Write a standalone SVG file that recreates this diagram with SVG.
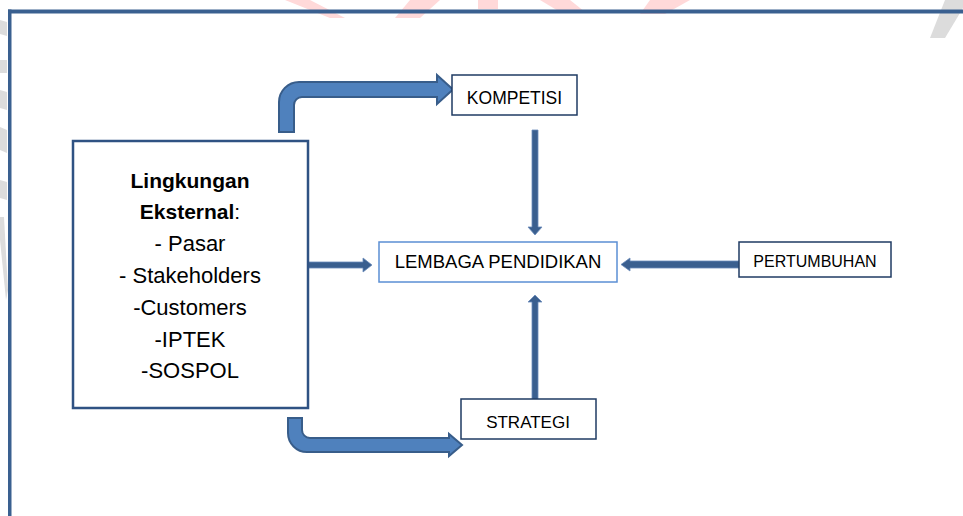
<svg xmlns="http://www.w3.org/2000/svg" width="963" height="516" viewBox="0 0 963 516">
<style>
  .box { fill: #ffffff; stroke: #1f3b63; stroke-width: 1.5; }
  .boxl { fill: #ffffff; stroke: #5b8fd4; stroke-width: 1.5; }
  .main { fill: #ffffff; stroke: #2f5283; stroke-width: 2.5; }
  .t { font-family: "Liberation Sans", Arial, sans-serif; fill: #000000; text-anchor: middle; }
  .bent { fill: #4f81bd; stroke: #385d8a; stroke-width: 2; stroke-linejoin: miter; }
  .str { fill: #3a5f8f; stroke: #6b8cba; stroke-width: 0.8; }
  .wm-g { fill: #dcdcdc; }
  .wm-p { fill: #ffd9d9; }
</style>
<rect x="0" y="0" width="963" height="516" fill="#ffffff"/>
<g id="watermark">
  <polygon class="wm-p" points="285,0 310,0 345,18 330,18"/>
  <polygon class="wm-p" points="410,0 440,0 420,18 395,18"/>
  <rect class="wm-p" x="478" y="0" width="20" height="9"/>
  <polygon class="wm-p" points="540,0 570,0 585,12 560,12"/>
  <polygon class="wm-p" points="650,0 690,0 665,14 640,14"/>
  <polygon class="wm-g" points="930,38 945,0 963,0 963,8 945,38"/>
  <polygon class="wm-g" points="0,20 7,22 7,36 0,34"/>
  <polygon class="wm-g" points="0,60 7,60 7,73 0,73"/>
  <polygon class="wm-g" points="0,90 7,92 7,110 0,108"/>
  <polygon class="wm-g" points="0,127 7,130 7,153 0,150"/>
  <polygon class="wm-g" points="0,180 7,182 7,200 0,198"/>
  <polygon class="wm-g" points="0,217 4,217 8,290 6,300 0,240"/>
</g>
<g id="frame">
  <rect x="8" y="9.5" width="955" height="4" fill="#3a6090"/>
  <rect x="8" y="9.5" width="3.5" height="506.5" fill="#3a6090"/>
</g>
<g id="connectors">
  <path class="bent" d="M279,132 L279,102 A20,20 0 0 1 299,82 L437,82 L437,75 L453,89.5 L437,104 L437,97 L302,97 A8,8 0 0 0 294,105 L294,132 Z"/>
  <path class="bent" d="M288,418 L288,433 A19,19 0 0 0 307,452 L449,452 L449,456 L462,445 L449,434 L449,438 L310,438 A8,8 0 0 1 302,430 L302,418 Z"/>
  <path class="str" d="M532,130 L538,130 L538,227 L542,227 L535,235 L528,227 L532,227 Z"/>
  <path class="str" d="M532,400 L538,400 L538,302 L542,302 L535,295 L528,302 L532,302 Z"/>
  <path class="str" d="M308,262 L363,262 L363,258 L372,265 L363,272 L363,268 L308,268 Z"/>
  <path class="str" d="M739,261 L630,261 L630,258 L621,264.5 L630,271 L630,268 L739,268 Z"/>
</g>
<g id="lingkungan">
  <rect class="main" x="73" y="141" width="235" height="267"/>
  <text class="t" x="190" y="188" font-size="21" font-weight="bold">Lingkungan</text>
  <text class="t" x="190" y="219" font-size="21"><tspan font-weight="bold">Eksternal</tspan>:</text>
  <text class="t" x="190" y="251" font-size="22">- Pasar</text>
  <text class="t" x="190" y="283" font-size="22">- Stakeholders</text>
  <text class="t" x="190" y="315" font-size="22">-Customers</text>
  <text class="t" x="190" y="347" font-size="22">-IPTEK</text>
  <text class="t" x="190" y="378" font-size="22">-SOSPOL</text>
</g>
<g id="kompetisi">
  <rect class="box" x="452" y="75" width="125" height="40"/>
  <text class="t" x="514.5" y="104" font-size="17.5">KOMPETISI</text>
</g>
<g id="lembaga">
  <rect class="boxl" x="379" y="242" width="238" height="40"/>
  <text class="t" x="498" y="268" font-size="18.5">LEMBAGA PENDIDIKAN</text>
</g>
<g id="pertumbuhan">
  <rect class="box" x="739" y="242" width="152" height="35"/>
  <text class="t" x="815" y="267" font-size="16">PERTUMBUHAN</text>
</g>
<g id="strategi">
  <rect class="box" x="461" y="399" width="135" height="40"/>
  <text class="t" x="528" y="428" font-size="17">STRATEGI</text>
</g>
</svg>
